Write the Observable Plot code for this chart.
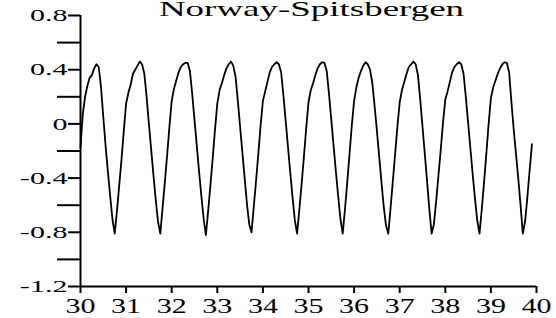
<!DOCTYPE html>
<html>
<head>
<meta charset="utf-8">
<script src="https://cdn.jsdelivr.net/npm/d3@7"></script>
<script src="https://cdn.jsdelivr.net/npm/@observablehq/plot@0.6"></script>
<style>
html, body { margin: 0; padding: 0; background: #fff; }
#chart svg { display: block; }
</style>
</head>
<body>
<div id="chart"></div>
<script>
// ---- data ----
const title = "Norway-Spitsbergen";
const xStart = 30;      // first sample time
const xStep = 0.05;     // sample spacing
const values = [
  // 30.00 – 30.70
  -0.17, 0.07, 0.20, 0.28, 0.34, 0.36, 0.41, 0.44, 0.42, 0.27, 0.05, -0.16, -0.35, -0.53, -0.70,
  // 30.75 – 31.70
  -0.81, -0.64, -0.45, -0.26, -0.05, 0.15, 0.23, 0.29, 0.37, 0.40, 0.43, 0.46, 0.44, 0.37, 0.20, 0.00, -0.19, -0.38, -0.56, -0.72,
  // 31.75 – 32.70
  -0.81, -0.62, -0.43, -0.23, -0.02, 0.17, 0.26, 0.32, 0.38, 0.42, 0.44, 0.45, 0.45, 0.39, 0.22, 0.03, -0.16, -0.35, -0.53, -0.70,
  // 32.75 – 33.70
  -0.82, -0.64, -0.45, -0.25, -0.04, 0.15, 0.25, 0.30, 0.36, 0.41, 0.44, 0.46, 0.43, 0.35, 0.17, -0.02, -0.21, -0.40, -0.59, -0.74,
  // 33.75 – 34.70
  -0.80, -0.61, -0.42, -0.22, -0.01, 0.17, 0.24, 0.31, 0.38, 0.42, 0.44, 0.455, 0.44, 0.38, 0.21, 0.02, -0.17, -0.36, -0.54, -0.71,
  // 34.75 – 35.70
  -0.81, -0.63, -0.44, -0.24, -0.03, 0.16, 0.25, 0.30, 0.36, 0.41, 0.44, 0.455, 0.45, 0.39, 0.22, 0.03, -0.16, -0.35, -0.53, -0.70,
  // 35.75 – 36.70
  -0.81, -0.63, -0.43, -0.22, -0.01, 0.17, 0.27, 0.34, 0.39, 0.43, 0.455, 0.44, 0.40, 0.30, 0.13, -0.05, -0.24, -0.43, -0.61, -0.75,
  // 36.75 – 37.70
  -0.81, -0.62, -0.42, -0.22, -0.02, 0.16, 0.25, 0.31, 0.37, 0.42, 0.44, 0.46, 0.44, 0.36, 0.18, -0.02, -0.22, -0.42, -0.63, -0.81,
  // 37.75 – 38.70
  -0.74, -0.57, -0.38, -0.19, 0.01, 0.18, 0.24, 0.31, 0.38, 0.42, 0.44, 0.455, 0.44, 0.37, 0.20, 0.01, -0.18, -0.37, -0.55, -0.71,
  // 38.75 – 39.70
  -0.81, -0.63, -0.43, -0.22, 0.00, 0.19, 0.27, 0.32, 0.37, 0.41, 0.44, 0.455, 0.45, 0.38, 0.16, -0.04, -0.22, -0.40, -0.60, -0.81,
  // 39.75 – 39.90
  -0.72, -0.54, -0.34, -0.15
];
const xTicks = [30, 31, 32, 33, 34, 35, 36, 37, 38, 39, 40];
const xTickLabels = ["30", "31", "32", "33", "34", "35", "36", "37", "38", "39", "40"];
const yTicks = [-1.2, -0.8, -0.4, 0, 0.4, 0.8];
const yTickLabels = ["-1.2", "-0.8", "-0.4", "0", "0.4", "0.8"];
const yMinorTicks = [-1.0, -0.6, -0.2, 0.2, 0.6];

// ---- table for the line mark ----
const data = values.map((v, i) => ({ x: +(xStart + i * xStep).toFixed(2), y: v }));

const FONT = "'Liberation Serif', 'Times New Roman', serif";

const svg = Plot.plot({
  width: 556,
  height: 318,
  marginLeft: 80,
  marginRight: 20,
  marginTop: 15,
  marginBottom: 32,
  style: { fontFamily: FONT, background: "#fff", color: "#000", overflow: "visible" },
  x: { domain: [30, 40] },
  y: { domain: [-1.2, 0.8] },
  marks: [
    Plot.line(data, { x: "x", y: "y", stroke: "#000", strokeWidth: 1.8, strokeLinejoin: "round" }),
    Plot.axisY(yMinorTicks, {
      tickSize: 23, strokeWidth: 2, stroke: "#000", tickFormat: () => "", label: null
    }),
    Plot.axisY(yTicks, {
      tickSize: 12, tickPadding: 1, strokeWidth: 2, stroke: "#000",
      tickFormat: d => yTickLabels[yTicks.indexOf(d)],
      fontSize: 17.5, fill: "#000", label: null
    }),
    Plot.axisX(xTicks, {
      tickSize: 7, tickPadding: 5, strokeWidth: 2, stroke: "#000",
      tickFormat: d => xTickLabels[xTicks.indexOf(d)],
      fontSize: 20, fill: "#000", label: null
    }),
    Plot.ruleX([30], { stroke: "#000", strokeWidth: 2 }),
    Plot.ruleY([-1.2], { stroke: "#000", strokeWidth: 2 }),
    Plot.text([title], {
      text: d => d, frameAnchor: "top", lineAnchor: "bottom", dy: 0, dx: 3,
      fontSize: 22, fill: "#000", fontFamily: FONT
    })
  ]
});

// the reference's lettering is drawn horizontally stretched:
// scale each label about its own anchor point
function stretchText(el, k) {
  const tr = el.getAttribute("transform") || "";
  el.setAttribute("transform", tr + ` scale(${k},1)`);
}
svg.querySelectorAll("text").forEach(t => {
  const s = t.textContent;
  if (s === title) stretchText(t, 1.68);
  else if (yTickLabels.includes(s)) stretchText(t, 1.72);
  else if (xTickLabels.includes(s)) stretchText(t, 1.5);
});

document.getElementById("chart").appendChild(svg);
</script>
</body>
</html>
